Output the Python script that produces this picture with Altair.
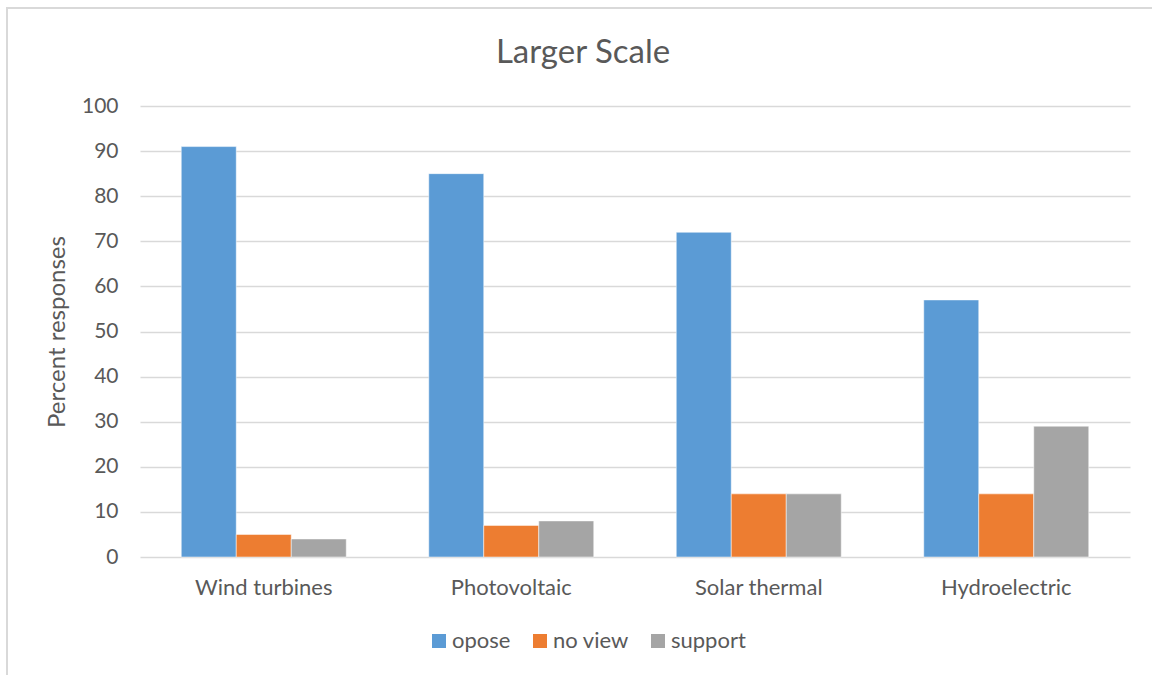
import altair as alt
import pandas as pd

# Survey responses per technology (percent)
technologies = ["Wind turbines", "Photovoltaic", "Solar thermal", "Hydroelectric"]
responses = ["opose", "no view", "support"]
opose = [91, 85, 72, 57]
no_view = [5, 7, 14, 14]
support = [4, 8, 14, 29]

colors = ["#5b9bd5", "#ed7d31", "#a5a5a5"]
text_color = "#595959"
grid_color = "#d9d9d9"
font = "Lato"

rows = []
for i, tech in enumerate(technologies):
    for resp, vals in zip(responses, [opose, no_view, support]):
        rows.append({"technology": tech, "response": resp, "value": vals[i]})
df = pd.DataFrame(rows)

W, H = 990, 451
PAD_L, PAD_T = 140, 106

bars = alt.Chart(df).mark_bar(stroke="white", strokeWidth=0.5).encode(
    x=alt.X(
        "technology:N",
        sort=technologies,
        scale=alt.Scale(paddingInner=1 / 3, paddingOuter=1 / 6),
        axis=alt.Axis(
            title=None,
            labelAngle=0,
            labelFontSize=22,
            labelColor=text_color,
            labelFont=font,
            labelPadding=20,
            ticks=False,
            domain=False,
            grid=False,
        ),
    ),
    xOffset=alt.XOffset("response:N", sort=responses, scale=alt.Scale(paddingInner=0, paddingOuter=0)),
    y=alt.Y(
        "value:Q",
        scale=alt.Scale(domain=[0, 100], nice=False),
        axis=alt.Axis(
            title="Percent responses",
            titleFontSize=24,
            titleFontWeight="normal",
            titleColor=text_color,
            titleFont=font,
            titlePadding=12,
            values=list(range(0, 101, 10)),
            labelFontSize=21,
            labelColor=text_color,
            labelFont=font,
            labelPadding=22,
            ticks=False,
            domain=False,
            gridColor=grid_color,
            gridWidth=1.5,
        ),
    ),
    color=alt.Color(
        "response:N",
        sort=responses,
        scale=alt.Scale(domain=responses, range=colors),
        legend=alt.Legend(
            title=None,
            orient="none",
            direction="horizontal",
            legendX=288,
            legendY=524,
            symbolType="square",
            symbolSize=196,
            symbolStrokeWidth=0,
            labelFontSize=22,
            labelColor=text_color,
            labelFont=font,
            labelOffset=2,
            columnPadding=18,
        ),
    ),
)

# light outer frame around the whole chart
frame = alt.Chart(pd.DataFrame({"k": [0]})).mark_rect(
    fill=None, stroke=grid_color, strokeWidth=2
).encode(
    x=alt.value(-PAD_L + 7),
    x2=alt.value(W + 60),
    y=alt.value(-PAD_T + 8),
    y2=alt.value(H + 160),
)

# chart heading
heading = alt.Chart(pd.DataFrame({"t": ["Larger Scale"]})).mark_text(
    font=font, fontSize=33, color=text_color, align="center", baseline="middle"
).encode(
    text="t:N",
    x=alt.value(583 - PAD_L),
    y=alt.value(53 - PAD_T),
)

chart = (
    alt.layer(frame, bars, heading)
    .properties(
        width=W,
        height=H,
        autosize=alt.AutoSizeParams(type="none"),
        padding={"left": PAD_L, "top": PAD_T, "right": 22, "bottom": 118},
        view=alt.ViewBackground(strokeOpacity=0, strokeWidth=0),
    )
    .configure_view(strokeWidth=0, strokeOpacity=0)
    .configure(background="white")
)

chart.save("out.html", embed_options={"renderer": "svg", "actions": False})
